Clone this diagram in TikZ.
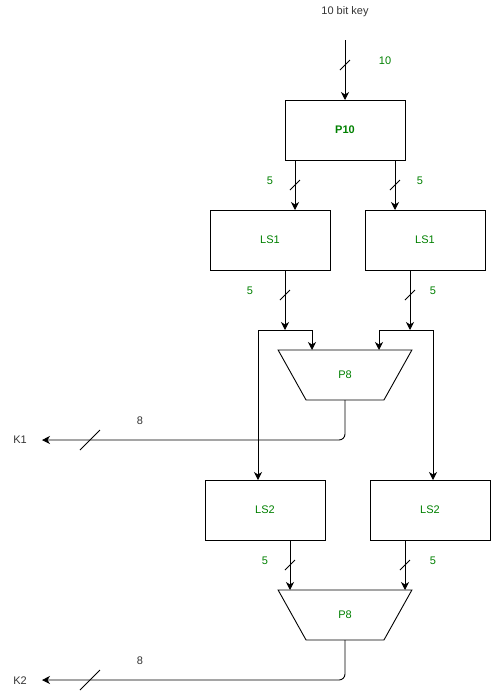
\documentclass[tikz,border=0pt]{standalone}
\usepackage{fontspec}
\setmainfont{Liberation Sans}
\usetikzlibrary{arrows.meta,shapes.geometric}
\definecolor{keygreen}{RGB}{0,128,0}
\definecolor{notegray}{RGB}{51,51,51}

\tikzset{
    box/.style={draw, line width=0.9pt, minimum width=120pt, minimum height=60pt,
        inner sep=0pt, outer sep=0pt, text=keygreen},
    permbox/.style={draw, line width=0.9pt, trapezium, shape border rotate=180,
        trapezium stretches=true, trapezium angle=58.2, minimum width=134pt,
        minimum height=50pt, inner sep=0pt, outer sep=0pt, text=keygreen},
    arr/.style={line width=0.9pt, -{Stealth[length=8pt,width=8pt,inset=2.5pt]}},
    wire/.style={line width=0.9pt},
    width/.style={text=keygreen},
    note/.style={text=notegray},
}

\begin{document}
\begin{tikzpicture}[x=1pt, y=-1pt, font=\fontsize{11}{13}\selectfont]
    \useasboundingbox (0,0) rectangle (491,694);

    % key input
    \node[note] (key) at (345,12) {10 bit key};
    \coordinate (keyin) at (345,40);
    \node[box, font=\fontsize{11}{13}\selectfont\bfseries] (p10) at (345,130) {P10};
    \draw[arr] (keyin) -- (p10.north);
    \draw[wire] (340,70) -- (350,60);
    \node[width] at (385,61) {10};

    % first shift
    \node[box] (ls1l) at (270,240) {LS1};
    \node[box] (ls1r) at (425,240) {LS1};
    \draw[arr] ([xshift=-50]p10.south) -- ([xshift=25]ls1l.north);
    \draw[arr] ([xshift=50]p10.south) -- ([xshift=-30]ls1r.north);
    \draw[wire] (290,190) -- (300,180);
    \draw[wire] (390,190) -- (400,180);
    \node[width] at (270,181) {5};
    \node[width] at (420,181) {5};

    % P8 for K1
    \node[permbox] (p8a) at (345,375) {P8};
    \coordinate (jl) at (285,330);
    \coordinate (jr) at (410,330);
    \draw[arr] ([xshift=15]ls1l.south) -- (jl);
    \draw[arr] ([xshift=-15]ls1r.south) -- (jr);
    \draw[wire] (280,300) -- (290,290);
    \draw[wire] (405,300) -- (415,290);
    \node[width] at (250,291) {5};
    \node[width] at (433,291) {5};

    \node[box] (ls2l) at (265,510) {LS2};
    \node[box] (ls2r) at (430,510) {LS2};
    \draw[wire] (258,330) -- (312,330);
    \draw[arr] (312,330) -- (312,0 |- p8a.north);
    \draw[arr] (258,330) -- ([xshift=-7]ls2l.north);
    \draw[wire] (379,330) -- (433,330);
    \draw[arr] (379,330) -- (379,0 |- p8a.north);
    \draw[arr] (433,330) -- ([xshift=3]ls2r.north);

    \node[note] (k1) at (20,440) {K1};
    \coordinate (k1end) at (42,440);
    \draw[arr, rounded corners=6] (p8a.south) |- (k1end);
    \draw[wire] (80,450) -- (100,430);
    \node[note] at (140,421) {8};

    % P8 for K2
    \node[permbox] (p8b) at (345,615) {P8};
    \draw[arr] ([xshift=25]ls2l.south) -- ([xshift=25]ls2l.south |- p8b.north);
    \draw[arr] ([xshift=-25]ls2r.south) -- ([xshift=-25]ls2r.south |- p8b.north);
    \draw[wire] (285,570) -- (295,560);
    \draw[wire] (400,570) -- (410,560);
    \node[width] at (265,561) {5};
    \node[width] at (433,561) {5};

    \node[note] (k2) at (20,681) {K2};
    \coordinate (k2end) at (42,680);
    \draw[arr, rounded corners=6] (p8b.south) |- (k2end);
    \draw[wire] (80,690) -- (100,670);
    \node[note] at (140,661) {8};
\end{tikzpicture}
\end{document}
